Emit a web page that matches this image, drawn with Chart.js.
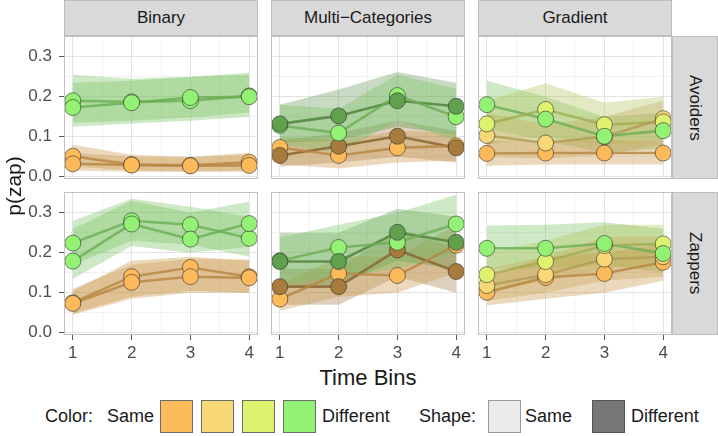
<!DOCTYPE html>
<html><head><meta charset="utf-8">
<script src="https://cdn.jsdelivr.net/npm/chart.js@4/dist/chart.umd.min.js"></script>
<style>
body{margin:0;background:#fff;width:718px;height:436px;overflow:hidden;position:relative;font-family:"Liberation Sans",Arial,sans-serif;}
.strip{position:absolute;background:#D9D9D9;border:1px solid #BDBDBD;box-sizing:border-box;color:#1a1a1a;font-size:17px;display:flex;align-items:center;justify-content:center;}
.vtext{writing-mode:vertical-rl;}
.lbl{position:absolute;color:#1a1a1a;white-space:nowrap;}
.key{position:absolute;box-sizing:border-box;border:1px solid #6b6b6b;}
canvas{position:absolute;}
</style>
</head><body>
<script>
// ---------- data ----------
const timeBins = [1, 2, 3, 4];
const xMajorTicks = [1, 2, 3, 4];
const xMinorTicks = [1.5, 2.5, 3.5];
const yMajorTicks = [0, 0.1, 0.2, 0.3];
const yMinorTicks = [0.05, 0.15, 0.25];
const facetCols = ['Binary', 'Multi\u2212Categories', 'Gradient'];
const facetRows = ['Avoiders', 'Zappers'];
const colorLevels = ['Same', '', '', 'Different'];
const shapeLevels = ['Same', 'Different'];

// Binary / Avoiders  (color index 0=Same .. 3=Different; shape 0=Same, 1=Different)
const binaryAvoidersColor = [3, 3, 0, 0];
const binaryAvoidersShape = [0, 0, 0, 0];
const binaryAvoidersMean = [[0.190, 0.187, 0.190, 0.202], [0.173, 0.185, 0.198, 0.200], [0.051, 0.030, 0.028, 0.036], [0.032, 0.029, 0.027, 0.028]];
const binaryAvoidersLow  = [[0.135, 0.140, 0.148, 0.160], [0.125, 0.133, 0.140, 0.150], [0.025, 0.015, 0.013, 0.015], [0.015, 0.012, 0.012, 0.012]];
const binaryAvoidersHigh = [[0.255, 0.245, 0.250, 0.260], [0.235, 0.240, 0.250, 0.255], [0.080, 0.055, 0.050, 0.060], [0.060, 0.050, 0.048, 0.055]];

// Binary / Zappers
const binaryZappersColor = [3, 3, 0, 0];
const binaryZappersShape = [0, 0, 0, 0];
const binaryZappersMean = [[0.224, 0.280, 0.270, 0.236], [0.179, 0.272, 0.234, 0.273], [0.075, 0.140, 0.163, 0.140], [0.073, 0.126, 0.140, 0.137]];
const binaryZappersLow  = [[0.170, 0.230, 0.220, 0.190], [0.135, 0.217, 0.200, 0.215], [0.048, 0.090, 0.105, 0.100], [0.045, 0.085, 0.100, 0.100]];
const binaryZappersHigh = [[0.280, 0.335, 0.315, 0.290], [0.260, 0.330, 0.300, 0.328], [0.105, 0.180, 0.190, 0.180], [0.110, 0.170, 0.185, 0.183]];

// Multi-Categories / Avoiders
const multiAvoidersColor = [3, 3, 0, 0];
const multiAvoidersShape = [0, 1, 0, 1];
const multiAvoidersMean = [[0.128, 0.109, 0.203, 0.150], [0.132, 0.152, 0.190, 0.176], [0.073, 0.053, 0.072, 0.077], [0.053, 0.076, 0.101, 0.072]];
const multiAvoidersLow  = [[0.080, 0.060, 0.140, 0.090], [0.085, 0.090, 0.125, 0.105], [0.030, 0.020, 0.035, 0.040], [0.025, 0.035, 0.050, 0.035]];
const multiAvoidersHigh = [[0.180, 0.170, 0.255, 0.220], [0.180, 0.218, 0.262, 0.235], [0.100, 0.090, 0.115, 0.110], [0.090, 0.110, 0.140, 0.115]];

// Multi-Categories / Zappers
const multiZappersColor = [3, 3, 0, 0];
const multiZappersShape = [0, 1, 0, 1];
const multiZappersMean = [[0.180, 0.213, 0.226, 0.272], [0.178, 0.178, 0.251, 0.226], [0.084, 0.148, 0.143, 0.219], [0.115, 0.115, 0.207, 0.153]];
const multiZappersLow  = [[0.120, 0.140, 0.160, 0.200], [0.110, 0.120, 0.180, 0.160], [0.055, 0.090, 0.100, 0.150], [0.070, 0.070, 0.140, 0.100]];
const multiZappersHigh = [[0.238, 0.270, 0.300, 0.345], [0.250, 0.250, 0.310, 0.290], [0.120, 0.190, 0.190, 0.270], [0.160, 0.160, 0.260, 0.210]];

// Gradient / Avoiders
const gradientAvoidersColor = [0, 1, 2, 3];
const gradientAvoidersShape = [0, 0, 0, 0];
const gradientAvoidersMean = [[0.058, 0.059, 0.059, 0.059], [0.103, 0.084, 0.100, 0.145], [0.132, 0.168, 0.130, 0.137], [0.180, 0.144, 0.101, 0.115]];
const gradientAvoidersLow  = [[0.027, 0.030, 0.030, 0.030], [0.050, 0.045, 0.055, 0.080], [0.080, 0.100, 0.080, 0.090], [0.120, 0.090, 0.060, 0.070]];
const gradientAvoidersHigh = [[0.090, 0.090, 0.090, 0.090], [0.160, 0.130, 0.150, 0.190], [0.190, 0.234, 0.185, 0.200], [0.240, 0.200, 0.150, 0.160]];

// Gradient / Zappers
const gradientZappersColor = [0, 1, 2, 3];
const gradientZappersShape = [0, 0, 0, 0];
const gradientZappersMean = [[0.101, 0.138, 0.148, 0.176], [0.118, 0.145, 0.184, 0.190], [0.145, 0.178, 0.218, 0.222], [0.211, 0.211, 0.223, 0.198]];
const gradientZappersLow  = [[0.068, 0.085, 0.100, 0.130], [0.080, 0.100, 0.130, 0.140], [0.100, 0.130, 0.160, 0.170], [0.160, 0.160, 0.170, 0.150]];
const gradientZappersHigh = [[0.140, 0.190, 0.200, 0.220], [0.160, 0.190, 0.240, 0.240], [0.200, 0.230, 0.270, 0.270], [0.268, 0.270, 0.276, 0.260]];

// ---------- style ----------
const baseColors = [[253, 186, 90], [248, 215, 118], [222, 242, 111], [147, 242, 116]];
const shapeKeyFill = ['#EBEBEB', '#777777'];
const colX = [64, 271, 478], rowY = [36, 192];
const PW = 194, PH = 143, Y_AXIS_W = 64, X_AXIS_H = [10, 30];
const STRIP_H = 36, RSTRIP_X = 672, RSTRIP_W = 46;
const FONT = '"Liberation Sans", Arial, sans-serif';

function rgba(c, f, a) { return `rgba(${Math.round(c[0]*f)},${Math.round(c[1]*f)},${Math.round(c[2]*f)},${a})`; }

const panels = [
  {r:0, c:0, color:binaryAvoidersColor, shape:binaryAvoidersShape, mean:binaryAvoidersMean, low:binaryAvoidersLow, high:binaryAvoidersHigh},
  {r:0, c:1, color:multiAvoidersColor, shape:multiAvoidersShape, mean:multiAvoidersMean, low:multiAvoidersLow, high:multiAvoidersHigh},
  {r:0, c:2, color:gradientAvoidersColor, shape:gradientAvoidersShape, mean:gradientAvoidersMean, low:gradientAvoidersLow, high:gradientAvoidersHigh},
  {r:1, c:0, color:binaryZappersColor, shape:binaryZappersShape, mean:binaryZappersMean, low:binaryZappersLow, high:binaryZappersHigh},
  {r:1, c:1, color:multiZappersColor, shape:multiZappersShape, mean:multiZappersMean, low:multiZappersLow, high:multiZappersHigh},
  {r:1, c:2, color:gradientZappersColor, shape:gradientZappersShape, mean:gradientZappersMean, low:gradientZappersLow, high:gradientZappersHigh},
];

const panelBorder = {
  id: 'panelBorder',
  afterDraw(chart) {
    const a = chart.chartArea, ctx = chart.ctx;
    ctx.save(); ctx.strokeStyle = '#C2C2C2'; ctx.lineWidth = 1;
    ctx.strokeRect(a.left + 0.5, a.top + 0.5, a.right - a.left - 1, a.bottom - a.top - 1);
    ctx.restore();
  }
};

function pts(arr) { return timeBins.map((x, k) => ({x: x, y: arr[k]})); }
function noPad(s) { s.paddingTop = 0; s.paddingBottom = 0; s.paddingLeft = 0; s.paddingRight = 0; }

function makePanel(p) {
  const cv = document.createElement('canvas');
  const left = p.c === 0 ? 0 : colX[p.c];
  const w = (p.c === 0 ? Y_AXIS_W : 0) + PW;
  const h = PH + X_AXIS_H[p.r];
  cv.width = w; cv.height = h;
  cv.style.left = left + 'px'; cv.style.top = rowY[p.r] + 'px';
  cv.style.width = w + 'px'; cv.style.height = h + 'px';
  document.body.appendChild(cv);

  const ds = [];
  const n = p.mean.length;
  for (let i = 0; i < n; i++) {
    const base = baseColors[p.color[i]];
    const rib = p.shape[i] ? rgba(base, 0.6, 0.33) : rgba(base, 0.8, 0.36);
    ds.push({data: pts(p.high[i]), fill: '+1', backgroundColor: rib, borderColor: 'rgba(0,0,0,0)', borderWidth: 0, pointRadius: 0, order: 1000});
    ds.push({data: pts(p.low[i]), fill: false, borderColor: 'rgba(0,0,0,0)', borderWidth: 0, pointRadius: 0, order: 1000});
  }
  for (let i = 0; i < n; i++) {
    const base = baseColors[p.color[i]];
    ds.push({data: pts(p.mean[i]), fill: false, borderColor: p.shape[i] ? rgba(base, 0.55, 0.85) : rgba(base, 0.72, 0.8),
      borderWidth: 2.6, pointRadius: 0, order: 500});
  }
  const idx = [...Array(n).keys()].sort((a, b) => (p.color[a] - p.color[b]) || (p.shape[a] - p.shape[b]));
  idx.forEach((i, j) => {
    const base = baseColors[p.color[i]];
    ds.push({data: pts(p.mean[i]), showLine: false, fill: false, pointRadius: 8, pointHoverRadius: 8,
      pointBackgroundColor: p.shape[i] ? rgba(base, 0.66, 1) : rgba(base, 1, 1),
      pointBorderColor: 'rgba(45,45,45,0.75)', pointBorderWidth: 0.8, order: 100 - j});
  });

  const tickFont = {family: FONT, size: 17};
  new Chart(cv, {
    type: 'line',
    data: {datasets: ds},
    plugins: [panelBorder],
    options: {
      responsive: false, animation: false, devicePixelRatio: 1, events: [],
      layout: {padding: 0, autoPadding: false},
      plugins: {legend: {display: false}, tooltip: {enabled: false}, filler: {drawTime: 'beforeDatasetsDraw'}},
      scales: {
        x: {
          type: 'linear', min: 0.85, max: 4.15,
          afterBuildTicks: s => { s.ticks = xMajorTicks.concat(xMinorTicks).sort((a,b)=>a-b).map(v => ({value: v})); },
          afterFit: s => { s.height = X_AXIS_H[p.r]; noPad(s); },
          ticks: {display: p.r === 1, autoSkip: false, maxRotation: 0, padding: 3, color: '#4D4D4D', font: tickFont,
            callback: v => xMajorTicks.includes(v) ? String(v) : ''},
          grid: {drawTicks: p.r === 1, tickLength: 5, tickWidth: 1,
            color: c => xMajorTicks.includes(c.tick.value) ? '#E3E3E3' : '#F1F1F1',
            tickColor: c => xMajorTicks.includes(c.tick.value) ? '#555' : 'rgba(0,0,0,0)'},
          border: {display: false}
        },
        y: {
          type: 'linear', min: -0.006, max: 0.352,
          afterBuildTicks: s => { s.ticks = yMajorTicks.concat(yMinorTicks).sort((a,b)=>a-b).map(v => ({value: v})); },
          afterFit: s => { s.width = p.c === 0 ? Y_AXIS_W : 0; noPad(s); },
          ticks: {display: p.c === 0, autoSkip: false, padding: 7, color: '#4D4D4D', font: tickFont,
            callback: v => yMajorTicks.includes(v) ? v.toFixed(1) : ''},
          grid: {drawTicks: p.c === 0, tickLength: 5, tickWidth: 1,
            color: c => yMajorTicks.includes(c.tick.value) ? '#E3E3E3' : '#F1F1F1',
            tickColor: c => yMajorTicks.includes(c.tick.value) ? '#555' : 'rgba(0,0,0,0)'},
          border: {display: false}
        }
      }
    }
  });
}
panels.forEach(makePanel);

// ---------- strips ----------
function div(cls, style, text) {
  const d = document.createElement('div'); d.className = cls;
  Object.assign(d.style, style); if (text !== undefined) d.textContent = text;
  document.body.appendChild(d); return d;
}
facetCols.forEach((t, c) => div('strip', {left: colX[c] + 'px', top: '0px', width: PW + 'px', height: STRIP_H + 'px'}, t));
facetRows.forEach((t, r) => {
  const s = div('strip', {left: RSTRIP_X + 'px', top: rowY[r] + 'px', width: RSTRIP_W + 'px', height: PH + 'px'});
  const sp = document.createElement('span'); sp.className = 'vtext'; sp.textContent = t; s.appendChild(sp);
});

// ---------- axis titles ----------
div('lbl', {left: '0px', top: '174px', width: '28px', height: '24px', fontSize: '21px', display: 'flex', alignItems: 'center', justifyContent: 'center'}, '')
  .innerHTML = '<span style="display:inline-block;transform:rotate(-90deg);">p(zap)</span>';
div('lbl', {left: '268px', top: '366px', width: '200px', textAlign: 'center', fontSize: '22px', lineHeight: '24px'}, 'Time Bins');

// ---------- legend ----------
const legY = 400, keyS = 33;
div('lbl', {left: '45px', top: (legY + 5) + 'px', fontSize: '18px', lineHeight: '22px'}, 'Color:');
div('lbl', {left: '107px', top: (legY + 5) + 'px', fontSize: '18px', lineHeight: '22px'}, colorLevels[0]);
const colorKeyX = [160, 201, 242, 283];
baseColors.forEach((b, i) => div('key', {left: colorKeyX[i] + 'px', top: legY + 'px', width: keyS + 'px', height: keyS + 'px', background: rgba(b, 1, 1)}));
div('lbl', {left: '322px', top: (legY + 5) + 'px', fontSize: '18px', lineHeight: '22px'}, colorLevels[3]);
div('lbl', {left: '419px', top: (legY + 5) + 'px', fontSize: '18px', lineHeight: '22px'}, 'Shape:');
div('key', {left: '488px', top: legY + 'px', width: keyS + 'px', height: keyS + 'px', background: shapeKeyFill[0], borderColor: '#9a9a9a'});
div('lbl', {left: '525px', top: (legY + 5) + 'px', fontSize: '18px', lineHeight: '22px'}, shapeLevels[0]);
div('key', {left: '592px', top: legY + 'px', width: keyS + 'px', height: keyS + 'px', background: shapeKeyFill[1], borderColor: '#555'});
div('lbl', {left: '631px', top: (legY + 5) + 'px', fontSize: '18px', lineHeight: '22px'}, shapeLevels[1]);
</script>
</body></html>
